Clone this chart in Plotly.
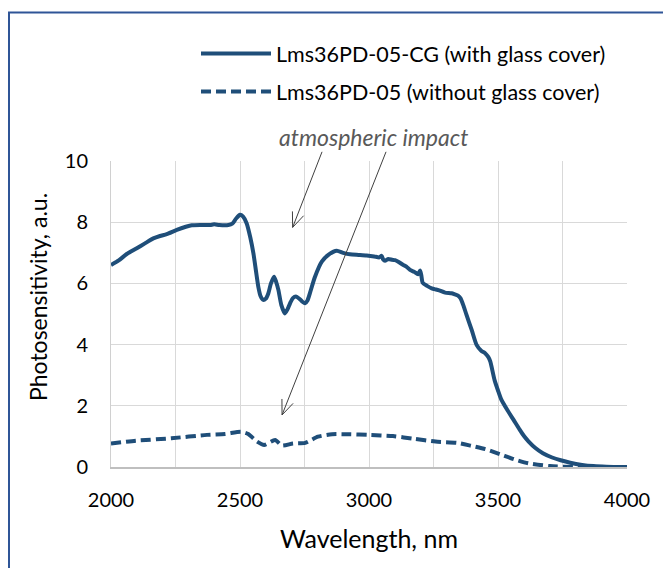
import numpy as np
import plotly.graph_objects as go

# ---- data ----
wl_cg = [2000, 2030, 2061, 2100, 2130, 2164, 2190, 2216, 2255, 2290, 2313, 2350, 2384, 2400,
         2420, 2455, 2470, 2485, 2500, 2512, 2526, 2540, 2552, 2562, 2571, 2580, 2590, 2600,
         2610, 2620, 2632, 2640, 2649, 2660, 2674, 2684, 2694, 2705, 2717, 2730, 2742, 2752,
         2762, 2771, 2790, 2817, 2845, 2875, 2900, 2926, 2960, 2991, 3020, 3040, 3049, 3055,
         3062, 3075, 3090, 3101, 3115, 3133, 3145, 3159, 3175, 3190, 3198, 3203, 3208, 3225,
         3243, 3260, 3269, 3295, 3320, 3333, 3345, 3355, 3367, 3378, 3398, 3417, 3435, 3450,
         3462, 3470, 3487, 3500, 3512, 3535, 3561, 3584, 3600, 3618, 3645, 3674, 3710, 3743,
         3780, 3826, 3870, 3920, 4000]
ps_cg = [6.60, 6.75, 6.96, 7.15, 7.30, 7.47, 7.55, 7.61, 7.75, 7.85, 7.90, 7.91, 7.91, 7.93,
         7.91, 7.91, 7.95, 8.12, 8.24, 8.18, 7.96, 7.50, 6.98, 6.40, 5.89, 5.58, 5.46, 5.50,
         5.68, 6.00, 6.22, 6.05, 5.78, 5.30, 5.02, 5.15, 5.35, 5.52, 5.57, 5.50, 5.40, 5.35,
         5.45, 5.68, 6.20, 6.71, 6.95, 7.07, 7.00, 6.95, 6.93, 6.91, 6.88, 6.85, 6.90, 6.78,
         6.74, 6.80, 6.77, 6.76, 6.70, 6.60, 6.55, 6.44, 6.38, 6.30, 6.42, 6.25, 6.02, 5.92,
         5.84, 5.80, 5.78, 5.70, 5.68, 5.64, 5.60, 5.51, 5.25, 4.97, 4.48, 3.99, 3.80, 3.72,
         3.60, 3.45, 2.83, 2.50, 2.22, 1.88, 1.53, 1.22, 1.02, 0.84, 0.62, 0.45, 0.31, 0.22,
         0.14, 0.07, 0.03, 0.01, 0.0]

wl_bare = [2000, 2096, 2234, 2372, 2442, 2504, 2532, 2566, 2594, 2636, 2663, 2705, 2753,
           2802, 2857, 2926, 2996, 3093, 3176, 3258, 3341, 3397, 3452, 3508, 3563, 3618,
           3701, 3798, 3900, 4000]
ps_bare = [0.77, 0.86, 0.94, 1.05, 1.08, 1.15, 1.08, 0.83, 0.72, 0.88, 0.70, 0.77, 0.79,
           0.99, 1.07, 1.07, 1.05, 1.01, 0.92, 0.83, 0.79, 0.69, 0.58, 0.42, 0.25, 0.12,
           0.03, 0.0, 0.0, 0.0]

name_cg = "Lms36PD-05-CG (with glass cover)"
name_bare = "Lms36PD-05 (without glass cover)"
x_title = "Wavelength, nm"
y_title = "Photosensitivity, a.u."
note_text = "atmospheric impact"

# ---- style ----
BLUE = "#1F4E79"
FONT = "Lato"
W, H = 663, 568
ML, MR, MT, MB = 111, 36, 161, 101
PW, PH = W - ML - MR, H - MT - MB
XR, YR = [2000, 4000], [0, 10]

fig = go.Figure()
fig.add_trace(go.Scatter(x=wl_cg, y=ps_cg, mode="lines", name=name_cg, legendgroup="a",
                         line=dict(color=BLUE, width=4, shape="spline", smoothing=0.6)))
fig.add_trace(go.Scatter(x=wl_bare, y=ps_bare, mode="lines", name=name_bare, legendgroup="b",
                         line=dict(color=BLUE, width=4, dash="10px,5px", shape="spline",
                                   smoothing=0.6)))


def to_paper(x, y):
    return (x - XR[0]) / (XR[1] - XR[0]), (y - YR[0]) / (YR[1] - YR[0])


def arrow_shapes(x0, y0, x1, y1, head=16, ang=22):
    p0 = np.array(to_paper(x0, y0)) * [PW, PH]
    p1 = np.array(to_paper(x1, y1)) * [PW, PH]
    d = (p0 - p1) / np.linalg.norm(p0 - p1)
    pts = []
    for a in (ang, -ang):
        r = np.radians(a)
        rot = np.array([[np.cos(r), -np.sin(r)], [np.sin(r), np.cos(r)]])
        pts.append(p1 + head * rot @ d)

    def f(p):
        return f"{p[0] / PW:.5f} {p[1] / PH:.5f}"
    path = f"M {f(p0)} L {f(p1)} M {f(pts[0])} L {f(p1)} L {f(pts[1])}"
    return dict(type="path", xref="paper", yref="paper", path=path,
                line=dict(color="#404040", width=1))


shapes = [
    arrow_shapes(2818, 10.3, 2704, 7.83),
    arrow_shapes(3066, 10.3, 2663, 1.70),
    dict(type="rect", xref="paper", yref="paper",
         x0=(9 - ML) / PW, x1=(W + 10 - ML) / PW,
         y0=-(H + 10 - MT - PH) / PH, y1=(MT + PH - 12.5) / PH,
         line=dict(color="#2F5597", width=2), fillcolor="rgba(0,0,0,0)"),
]

fig.update_layout(
    width=W, height=H,
    margin=dict(l=ML, r=MR, t=MT, b=MB),
    paper_bgcolor="white", plot_bgcolor="white",
    font=dict(family=FONT, color="#000000", size=20),
    showlegend=True,
    legend=dict(x=(196 - ML) / PW, y=(MT + PH - 33) / PH, xanchor="left", yanchor="top",
                font=dict(size=21.5, family=FONT, color="#000000"),
                bgcolor="rgba(0,0,0,0)", itemwidth=70, tracegroupgap=7),
    shapes=shapes,
    annotations=[
        dict(text=f"<i>{note_text}</i>", xref="paper", yref="paper",
             x=(373 - ML) / PW, y=(MT + PH - 137) / PH, showarrow=False,
             xanchor="center", yanchor="middle",
             font=dict(size=23, family=FONT, color="#595959")),
        dict(text=y_title, xref="paper", yref="paper", textangle=-90,
             x=(38 - ML) / PW, y=(MT + PH - 297) / PH, showarrow=False,
             xanchor="center", yanchor="middle",
             font=dict(size=23, family=FONT, color="#000000")),
    ],
    xaxis=dict(range=XR, dtick=500, tick0=2000, showgrid=True, gridcolor="#D9D9D9", gridwidth=1,
               minor=dict(dtick=250, showgrid=True, gridcolor="#D9D9D9", gridwidth=1),
               showline=True, linecolor="#BFBFBF", linewidth=1.5, zeroline=False,
               ticks="", ticklabelstandoff=14, tickfont=dict(size=20, family=FONT),
               title=dict(text=x_title, font=dict(size=25, family=FONT), standoff=21)),
    yaxis=dict(range=YR, dtick=2, showgrid=True, gridcolor="#D9D9D9", gridwidth=1,
               zeroline=False, showline=True, linecolor="#D0D0D0", linewidth=1,
               ticks="", ticklabelstandoff=18, tickfont=dict(size=20, family=FONT)),
)

fig.write_html("out.html", config={"displayModeBar": False},
               post_script="document.body.style.margin='0';"
                           "document.documentElement.style.overflow='hidden';"
                           "document.body.style.overflow='hidden';")
